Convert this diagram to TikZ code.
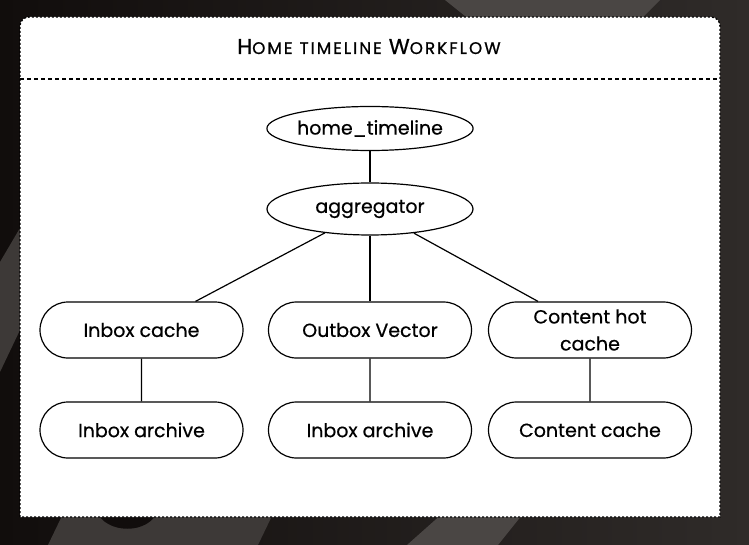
\documentclass[tikz,border=0pt]{standalone}
\usepackage{fontspec}
\setmainfont{Poppins}
\usetikzlibrary{shapes.geometric,shapes.misc}
\definecolor{bgdark}{HTML}{110D0C}
\definecolor{bgmid}{HTML}{2F2B29}
\definecolor{swirl}{HTML}{3D3937}
\definecolor{swirlhi}{HTML}{4A4644}
\newcommand\tsc[2]{{\fontsize{21.5}{22}\selectfont\addfontfeature{LetterSpace=10,FakeBold=0.8}#1}{\fontsize{16.8}{17}\selectfont\addfontfeature{LetterSpace=12,FakeBold=0.8}#2}}
\tikzset{
  oval/.style={ellipse, draw, line width=1.2pt, fill=white, minimum width=206pt, inner sep=0pt, font=\fontsize{19}{22}\selectfont\addfontfeature{FakeBold=0.5}},
  pill/.style={rounded rectangle, draw, line width=1.2pt, fill=white, minimum width=203pt, minimum height=56pt, inner sep=0pt, align=center, font=\fontsize{19}{27}\selectfont\addfontfeature{FakeBold=0.5}},
  link/.style={line width=1.2pt}
}
\begin{document}
\begin{tikzpicture}[x=1pt,y=-1pt]
\useasboundingbox (0,0) rectangle (749,545);
% background
\fill[left color=bgdark, right color=bgmid] (0,0) rectangle (749,545);
\fill[swirlhi] (445,0) .. controls (455,8) .. (470,20) -- (640,20) -- (660,0) -- cycle;
\fill[swirl] (0,262) -- (20,228) -- (20,330) -- (0,372) -- cycle;
\fill[swirl] (48,545) .. controls (60,520) .. (70,500) -- (280,500) .. controls (270,520) .. (258,545) -- cycle;
\fill[bgdark] (96,510) .. controls (105,535) and (150,535) .. (158,510) -- cycle;
\fill[swirlhi] (407,545) -- (452,505) -- (530,505) -- (498,545) -- cycle;
% panel
\draw[fill=white, draw=black, line width=1.3pt, dash pattern=on 2pt off 2pt, rounded corners=9pt]
  (20,517) -- (20,17) -- (720,17) [rounded corners=0pt] -- (720,517) -- cycle;
\draw[black, line width=1.3pt, dash pattern=on 3.5pt off 3.5pt] (20,79) -- (720,79);
\node[anchor=base, inner sep=0pt] (title) at (369,54) {\tsc{H}{OME}\hspace{7pt}\tsc{}{TIMELINE}\hspace{7pt}\tsc{W}{ORKFLOW}};
% nodes
\node[oval, minimum height=44pt] (home) at (370,128.5) {home\_timeline};
\node[oval, minimum height=52pt] (agg) at (370,209) {aggregator};
\node[pill] (ic) at (141.5,330) {Inbox cache};
\node[pill] (ov) at (370,330) {Outbox Vector};
\node[pill] (ch) at (590,330) {Content hot\\cache};
\node[pill] (ia1) at (141.5,430) {Inbox archive};
\node[pill] (ia2) at (370,430) {Inbox archive};
\node[pill] (cc) at (590,430) {Content cache};
% connectors
\draw[link] (home) -- (agg);
\draw[link] (agg) -- (ic);
\draw[link] (agg) -- (ov);
\draw[link] (agg) -- (ch);
\draw[link] (ic) -- (ia1);
\draw[link] (ov) -- (ia2);
\draw[link] (ch) -- (cc);
\end{tikzpicture}
\end{document}
